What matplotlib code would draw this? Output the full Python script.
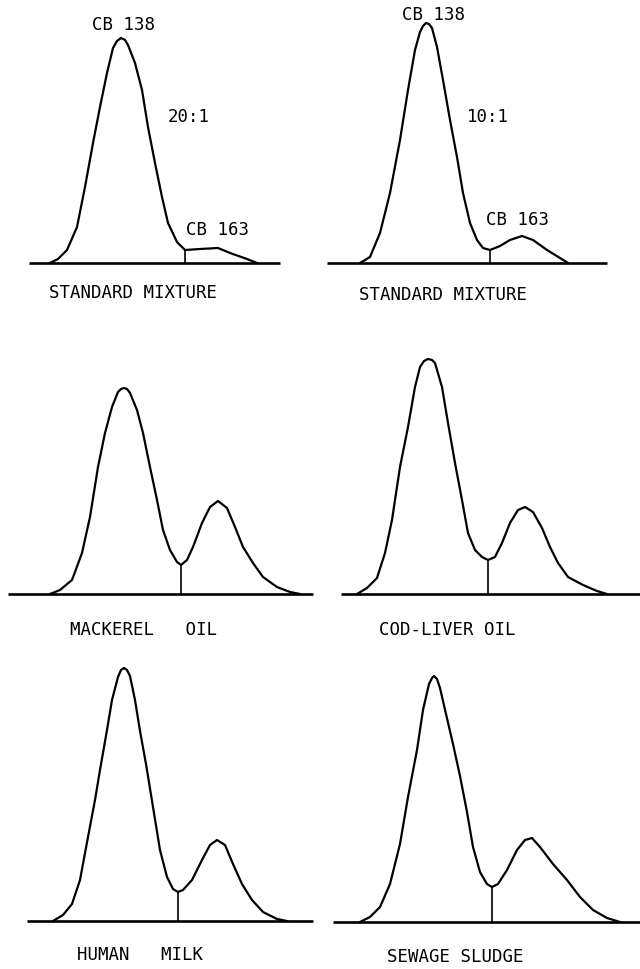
import matplotlib
matplotlib.use("Agg")
import matplotlib.pyplot as plt

# traces: x = retention position within panel,
# h = detector response above baseline (same arbitrary units for all panels)
std20_x = [50, 58, 67, 77, 85, 93, 100, 107, 113, 117, 121, 125, 128, 135, 142,
           148, 155, 162, 168, 177, 185, 200, 218, 230, 247, 257]
std20_h = [0, 4, 13, 36, 76, 120, 156, 190, 215, 222, 225, 223, 218, 200, 173,
           136, 100, 66, 40, 21, 13, 14, 15, 10, 4, 0]

std10_x = [40, 50, 60, 70, 80, 88, 95, 100, 103, 106, 109, 112, 117, 123, 130,
           137, 143, 150, 157, 163, 170, 180, 190, 202, 213, 227, 240, 248]
std10_h = [0, 6, 30, 70, 123, 173, 213, 231, 237, 240, 239, 235, 216, 183, 143,
           106, 70, 40, 23, 15, 13, 17, 23, 27, 23, 13, 5, 0]

mackerel_x = [50, 60, 72, 82, 90, 98, 105, 112, 118, 121, 124, 127, 130, 137, 143,
              150, 157, 163, 170, 177, 181, 187, 193, 202, 210, 218, 227, 235,
              243, 253, 263, 277, 290, 300]
mackerel_h = [0, 4, 14, 41, 77, 127, 161, 187, 202, 205, 206, 205, 201, 184, 161,
              127, 94, 64, 44, 32, 29, 34, 47, 71, 87, 93, 86, 67, 47, 31, 17, 7,
              2, 0]

codliver_x = [37, 47, 57, 65, 72, 80, 88, 95, 100, 104, 108, 112, 115, 122, 128,
              135, 142, 148, 155, 162, 168, 175, 182, 190, 198, 205, 213, 222,
              230, 238, 248, 263, 277, 287]
codliver_h = [0, 6, 16, 41, 74, 127, 167, 207, 227, 233, 235, 234, 231, 207, 171,
              131, 94, 61, 44, 37, 34, 37, 51, 71, 84, 87, 82, 66, 47, 31, 17, 9,
              3, 0]

milk_x = [53, 63, 72, 80, 88, 95, 100, 107, 112, 118, 121, 124, 127, 130, 135,
          140, 146, 153, 160, 167, 173, 178, 183, 192, 202, 210, 217, 225, 233,
          242, 252, 263, 277, 287]
milk_h = [0, 6, 17, 41, 84, 121, 151, 191, 221, 244, 251, 253, 251, 245, 221,
          190, 157, 114, 71, 44, 32, 29, 31, 41, 61, 76, 81, 76, 57, 37, 21, 9,
          2, 0]

sludge_x = [40, 50, 60, 70, 80, 88, 97, 103, 109, 112, 114, 117, 120, 126, 133,
            140, 147, 153, 160, 167, 172, 178, 187, 197, 205, 212, 220, 233, 247,
            260, 273, 287, 300]
sludge_h = [0, 5, 15, 38, 78, 125, 172, 212, 238, 244, 246, 243, 234, 208, 178,
            146, 110, 75, 50, 38, 35, 38, 52, 72, 82, 84, 75, 58, 42, 25, 12, 4,
            0]

# valley position where the drop line splits CB 138 / CB 163
valley_x = [185, 170, 181, 168, 178, 172]
valley_h = [13, 13, 29, 34, 29, 35]

# baseline extent
base_start = [29, 7, 8, 21, 27, 13]
base_end = [280, 287, 313, 320, 313, 320]

sample_names = ["STANDARD MIXTURE", "STANDARD MIXTURE", "MACKEREL   OIL",
                "COD-LIVER OIL", "HUMAN   MILK", "SEWAGE SLUDGE"]
ratios = ["20:1", "10:1"]

traces = [(std20_x, std20_h), (std10_x, std10_h), (mackerel_x, mackerel_h),
          (codliver_x, codliver_h), (milk_x, milk_h), (sludge_x, sludge_h)]

# layout (pixels): column left edge, baseline row, label offsets
W, H = 640, 969
col_left = [0, 320, 0, 320, 0, 320]
baseline_px = [263, 263, 594, 594, 921, 922]
name_x = [133, 123, 143, 127, 140, 135]
name_y = [-30, -32, -36, -36, -34, -35]
peak_lbl = [(123, 238), (113, 248)]
ratio_lbl = [(189, 146), (168, 146)]
minor_lbl = [(218, 33), (198, 43)]

fig = plt.figure(figsize=(W / 100, H / 100), dpi=100)
mono = "DejaVu Sans Mono"
ylo, yhi = -45, 265

for i, (xs, hs) in enumerate(traces):
    b = baseline_px[i]
    ax = fig.add_axes([col_left[i] / W, (H - (b - ylo)) / H, 320 / W, (yhi - ylo) / H])
    ax.set_xlim(0, 320)
    ax.set_ylim(ylo, yhi)
    ax.axis("off")

    ax.plot([base_start[i], base_end[i]], [0, 0], color="black", lw=1.9,
            solid_capstyle="butt")
    ax.plot(xs, hs, color="black", lw=1.6, solid_joinstyle="round")
    ax.plot([valley_x[i], valley_x[i]], [0, valley_h[i]], color="black", lw=1.2)

    ax.text(name_x[i], name_y[i], sample_names[i], family=mono, fontsize=12.5,
            ha="center", va="center", clip_on=False)
    if i < 2:
        ax.text(*peak_lbl[i], "CB 138", family=mono, fontsize=12.5,
                ha="center", va="center", clip_on=False)
        ax.text(*ratio_lbl[i], ratios[i], family=mono, fontsize=12.5,
                ha="center", va="center", clip_on=False)
        ax.text(*minor_lbl[i], "CB 163", family=mono, fontsize=12.5,
                ha="center", va="center", clip_on=False)

fig.savefig("out.png", dpi=100, facecolor="white")
